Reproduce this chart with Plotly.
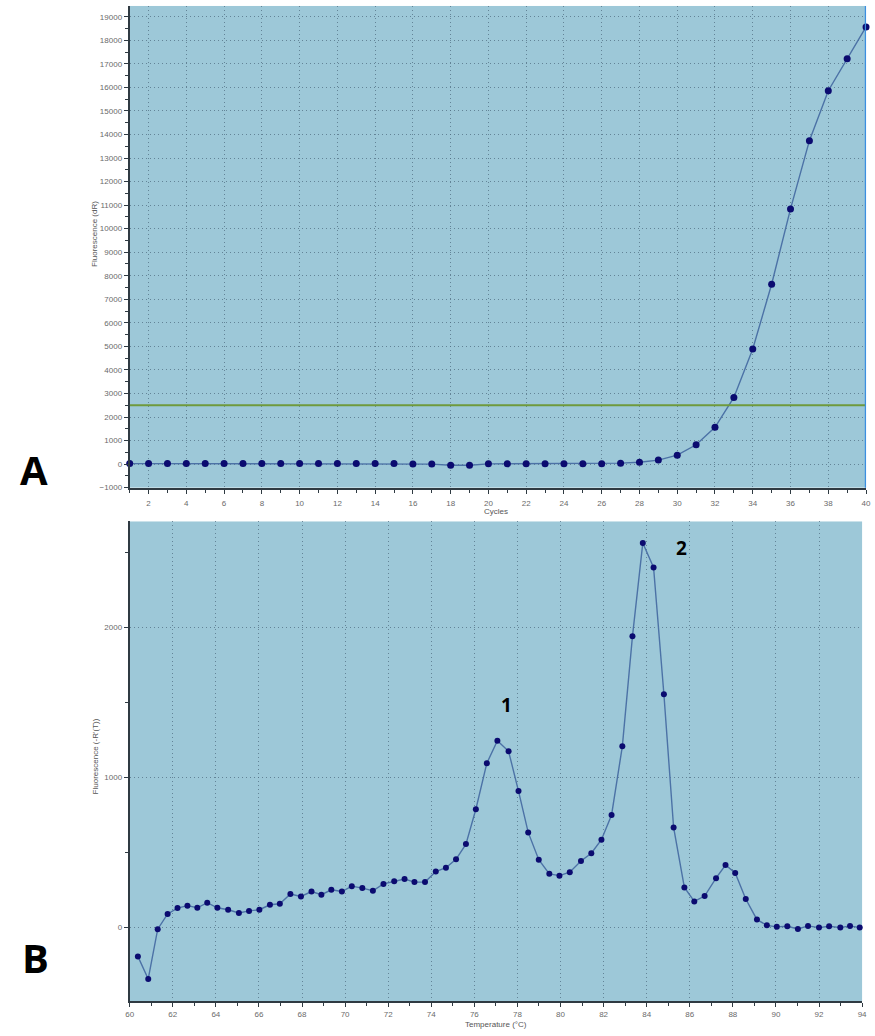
import plotly.graph_objects as go

# ---- Amplification plot (A) ----
cycles = list(range(1, 41))
fluor_dR = [20, 20, 20, 20, 20, 20, 20, 20, 20, 20,
            20, 20, 20, 20, 20, 0, 0, -50, -50, 10,
            10, 10, 10, 10, 10, 10, 40, 80, 170, 380,
            820, 1560, 2830, 4890, 7640, 10840, 13740, 15860, 17220, 18570]
threshold = 2500

# ---- Melt curve derivative (B) ----
temps = [60.38, 60.86, 61.30, 61.76, 62.22, 62.68, 63.14, 63.60, 64.07, 64.57,
         65.07, 65.54, 66.02, 66.51, 66.97, 67.46, 67.95, 68.44, 68.90, 69.36,
         69.85, 70.31, 70.80, 71.29, 71.78, 72.28, 72.76, 73.22, 73.71, 74.21,
         74.68, 75.15, 75.61, 76.07, 76.58, 77.07, 77.59, 78.05, 78.50, 78.99,
         79.48, 79.95, 80.43, 80.95, 81.43, 81.90, 82.37, 82.87, 83.34, 83.82,
         84.32, 84.80, 85.25, 85.75, 86.21, 86.69, 87.22, 87.66, 88.11, 88.60,
         89.12, 89.58, 90.04, 90.53, 91.02, 91.49, 92.00, 92.47, 92.99, 93.44,
         93.89]
neg_dR = [-192, -342, -11, 91, 130, 146, 132, 166, 132, 119,
          97, 111, 119, 152, 159, 223, 207, 240, 219, 252,
          240, 276, 263, 245, 291, 309, 323, 303, 303, 373,
          399, 455, 556, 788, 1095, 1245, 1174, 909, 634, 452,
          358, 346, 369, 444, 495, 585, 750, 1207, 1940, 2561,
          2399, 1554, 667, 267, 174, 210, 329, 417, 364, 190,
          53, 15, 5, 9, -9, 11, 0, 9, 0, 11,
          0]
peak_labels = ["1", "2"]
peak_pos = [(77.5, 1480), (85.6, 2530)]

W, H = 875, 1036
BG = "#9dc8d8"
GRID = "rgba(80,110,130,0.75)"
AXIS = "#2f3a42"
TICKFONT = dict(family="Liberation Sans, Arial, sans-serif", size=8, color="#6a6a6a")
LINE = "#4c72a6"
MARK = "#0b0b70"

fig = go.Figure()

fig.add_trace(go.Scatter(
    x=cycles, y=fluor_dR, mode="lines+markers",
    line=dict(color=LINE, width=1.4),
    marker=dict(color=MARK, size=7),
    cliponaxis=False, showlegend=False,
    xaxis="x", yaxis="y"))

fig.add_trace(go.Scatter(
    x=temps, y=neg_dR, mode="lines+markers",
    line=dict(color=LINE, width=1.4),
    marker=dict(color=MARK, size=6),
    cliponaxis=False, showlegend=False,
    xaxis="x2", yaxis="y2"))


def px_x(p):
    return p / W


def px_y(p):
    return 1 - p / H


common_axis = dict(
    showline=True, linecolor=AXIS, linewidth=2, mirror=False,
    ticks="outside", ticklen=4, tickcolor=AXIS, tickwidth=1,
    showgrid=True, gridcolor=GRID, griddash="1px,3px", gridwidth=1,
    zeroline=False, tickfont=TICKFONT, fixedrange=True,
)

fig.update_layout(
    width=W, height=H,
    margin=dict(l=0, r=0, t=0, b=0),
    paper_bgcolor="white",
    plot_bgcolor=BG,
    xaxis=dict(common_axis, domain=[px_x(127), px_x(871)], anchor="y",
               range=[1, 40], tick0=0, dtick=2, ticklabelstandoff=3,
               minor=dict(dtick=1, tick0=0, ticklen=3, tickcolor=AXIS, showgrid=False)),
    yaxis=dict(common_axis, domain=[px_y(490), px_y(6)], anchor="x",
               range=[-1000, 19460], tick0=0, dtick=1000, tickformat="d",
               minor=dict(dtick=500, tick0=0, ticklen=3, tickcolor=AXIS, showgrid=False)),
    xaxis2=dict(common_axis, domain=[px_x(127), px_x(867)], anchor="y2",
                range=[60, 94], tick0=60, dtick=2,
                minor=dict(dtick=1, tick0=60, ticklen=3, tickcolor=AXIS, showgrid=False)),
    yaxis2=dict(common_axis, domain=[px_y(1006), px_y(524)], anchor="x2",
                range=[-490, 2705], tick0=0, dtick=1000, tickformat="d",
                minor=dict(dtick=500, tick0=0, ticklen=3, tickcolor=AXIS, showgrid=False)),
)

# threshold line and cycle cursor on the amplification plot
fig.add_shape(type="line", xref="x", yref="y", x0=1, x1=40, y0=threshold, y1=threshold,
              line=dict(color="#6f9a3c", width=2))
fig.add_shape(type="line", xref="x", yref="paper", x0=40, x1=40,
              y0=px_y(490), y1=px_y(6), line=dict(color="#3c8fe0", width=2.5))


def paper_text(text, x, y, font, angle=0):
    fig.add_annotation(text=text, x=px_x(x), y=px_y(y), xref="paper", yref="paper",
                       xanchor="center", yanchor="middle", textangle=angle,
                       showarrow=False, font=font)


label_font = dict(family="Liberation Sans, Arial, sans-serif", size=8, color="#555555")
paper_text("Fluorescence (dR)", 92, 235, label_font, -90)
paper_text("Cycles", 497, 514, label_font)
paper_text("Fluorescence (-R'(T))", 92, 760, label_font, -90)
paper_text("Temperature (°C)", 497, 1029, label_font)

# panel letters
panel_font = dict(family="Open Sans, Liberation Sans, sans-serif", size=40, color="black")
paper_text("<b>A</b>", 30, 472, panel_font)
paper_text("<b>B</b>", 32, 962, panel_font)

# melt peak labels
for lab, (tx, ty) in zip(peak_labels, peak_pos):
    fig.add_annotation(text=f"<b>{lab}</b>", x=tx, y=ty, xref="x2", yref="y2", showarrow=False,
                       font=dict(family="Open Sans, Liberation Sans, sans-serif", size=19, color="black"))

fig.write_html("out.html")
